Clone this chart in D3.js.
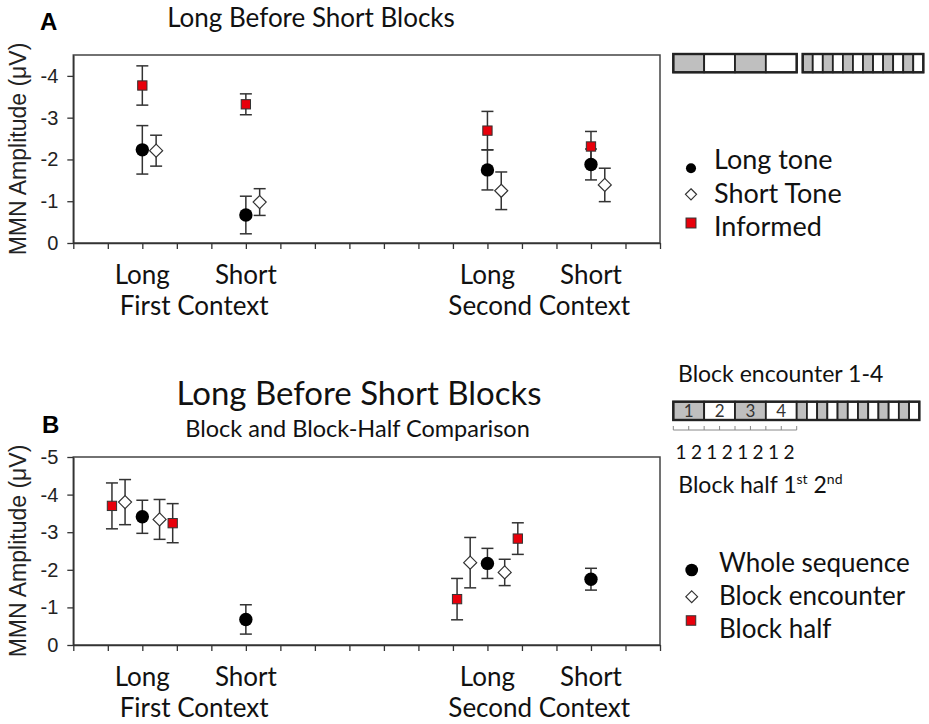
<!DOCTYPE html>
<html>
<head>
<meta charset="utf-8">
<script src="https://cdn.jsdelivr.net/npm/d3@7"></script>
<style>
  html, body { margin: 0; padding: 0; background: #fff; }
  svg { display: block; }
</style>
</head>
<body>
<svg id="chart" width="929" height="724"></svg>
<script>
// ---------------- DATA ----------------
const categories = ["Long", "Short", "Long", "Short"];
const categoryX = [2, 5, 12, 15];
const contexts = ["First Context", "Second Context"];
const contextX = [3.5, 13.5];
const xTicks = d3.range(0, 18);

const yTicksA = [0, -1, -2, -3, -4];
const yTicksB = [0, -1, -2, -3, -4, -5];

// Panel A
const longTone = [-2.23, -0.67, -1.75, -1.88];
const longToneErr = [0.58, 0.45, 0.48, 0.37];
const shortTone = [-2.21, -0.98, -1.25, -1.39];
const shortToneErr = [0.37, 0.32, 0.45, 0.40];
const informed = [-3.77, -3.32, -2.69, -2.31];
const informedErr = [0.47, 0.25, 0.46, 0.36];

// Panel B
const wholeSeq = [-3.41, -0.68, -2.17, -1.75];
const wholeSeqErr = [0.44, 0.39, 0.40, 0.29];
// block encounter: [before, after] around the Long categories (index 0 and 2)
const encounterCat = [0, 0, 2, 2];
const encounter = [-3.80, -3.34, -2.19, -1.93];
const encounterErr = [0.60, 0.53, 0.67, 0.35];
const halfCat = [0, 0, 2, 2];
const blockHalf = [-3.70, -3.24, -1.22, -2.83];
const blockHalfErr = [0.61, 0.52, 0.55, 0.42];

const legendA = ["Long tone", "Short Tone", "Informed"];
const legendB = ["Whole sequence", "Block encounter", "Block half"];
const titleA = "Long Before Short Blocks";
const titleB = "Long Before Short Blocks";
const subtitleB = "Block and Block-Half Comparison";
const yLabel = "MMN Amplitude (\u03BCV)";

const longBlocks = 4, shortBlocks = 12;
const blockLabels = ["1", "2", "3", "4"];
const halfLabels = ["1", "2", "1", "2", "1", "2", "1", "2"];

// ---------------- DRAW ----------------
const svg = d3.select("#chart");
const SANS = "'Liberation Sans', Arial, sans-serif";
const HUM = "Lato, 'Open Sans', sans-serif";
const INK = "#333";
const RED = "#e8000b";

const x = d3.scaleLinear().domain([0, 17]).range([73.3, 660]);
const yA = d3.scaleLinear().domain([0, -4.5]).range([243, 55]);
const yB = d3.scaleLinear().domain([0, -5]).range([645, 457]);

function marker(g, cx, cy, type, s) {
  s = s || 1;
  if (type === "circle") {
    g.append("circle").attr("cx", cx).attr("cy", cy).attr("r", 6.7 * s).attr("fill", "#000");
  } else if (type === "diamond") {
    const h = 6.5 * s;
    g.append("path")
      .attr("d", `M${cx},${cy - h}L${cx + h},${cy}L${cx},${cy + h}L${cx - h},${cy}Z`)
      .attr("fill", "#fff").attr("stroke", INK).attr("stroke-width", 1.2);
  } else {
    const a = 9.3 * s;
    g.append("rect").attr("x", cx - a / 2).attr("y", cy - a / 2).attr("width", a).attr("height", a)
      .attr("fill", RED).attr("stroke", INK).attr("stroke-width", 1);
  }
}

function errbar(g, cx, y, v, e) {
  const y1 = y(v - e), y2 = y(v + e), cw = 6;
  g.append("line").attr("x1", cx).attr("x2", cx).attr("y1", y1).attr("y2", y2)
    .attr("stroke", INK).attr("stroke-width", 1.5);
  [y1, y2].forEach(yy => g.append("line").attr("x1", cx - cw).attr("x2", cx + cw)
    .attr("y1", yy).attr("y2", yy).attr("stroke", INK).attr("stroke-width", 1.5));
}

function panel(y, yTicks, top, bottom) {
  const g = svg.append("g");
  g.append("rect").attr("x", x(0)).attr("y", top).attr("width", x(17) - x(0)).attr("height", bottom - top)
    .attr("fill", "none").attr("stroke", "#444").attr("stroke-width", 1.5);
  const xa = g.append("g").attr("transform", `translate(0,${bottom})`)
    .call(d3.axisBottom(x).tickValues(xTicks).tickSize(6).tickSizeOuter(0).tickFormat(""));
  xa.select(".domain").attr("stroke", INK).attr("stroke-width", 1.5);
  xa.selectAll(".tick line").attr("stroke", INK).attr("stroke-width", 1.3);
  const ya = g.append("g").attr("transform", `translate(${x(0)},0)`)
    .call(d3.axisLeft(y).tickValues(yTicks).tickSize(6).tickSizeOuter(0).tickPadding(9)
      .tickFormat(d => String(d)));
  ya.select(".domain").attr("stroke", INK).attr("stroke-width", 1.5);
  ya.selectAll(".tick line").attr("stroke", INK).attr("stroke-width", 1.3);
  ya.selectAll(".tick text").attr("font-family", SANS).attr("font-size", 20).attr("fill", "#222");
  g.append("text").attr("transform", `translate(26,${(top + bottom) / 2}) rotate(-90)`)
    .attr("text-anchor", "middle").attr("font-family", SANS).attr("font-size", 23).attr("fill", "#222")
    .text(yLabel);
  categories.forEach((c, i) => g.append("text").attr("x", x(categoryX[i])).attr("y", bottom + 41)
    .attr("text-anchor", "middle").attr("font-family", HUM).attr("font-size", 26).attr("fill", "#111").text(c));
  contexts.forEach((c, i) => g.append("text").attr("x", x(contextX[i])).attr("y", bottom + 72)
    .attr("text-anchor", "middle").attr("font-family", HUM).attr("font-size", 26).attr("fill", "#111").text(c));
  return g;
}

// ----- Panel A -----
const gA = panel(yA, yTicksA, 55, 243);
svg.append("text").attr("x", 311).attr("y", 27).attr("text-anchor", "middle")
  .attr("font-family", HUM).attr("font-size", 26).attr("fill", "#111").text(titleA);
svg.append("text").attr("x", 40).attr("y", 29.5).attr("font-family", SANS).attr("font-weight", "bold")
  .attr("font-size", 24).attr("fill", "#000").text("A");

const eA = gA.append("g"), mA = gA.append("g");
categoryX.forEach((cx, i) => {
  errbar(eA, x(cx), yA, informed[i], informedErr[i]);
  errbar(eA, x(cx), yA, longTone[i], longToneErr[i]);
  errbar(eA, x(cx + 0.4), yA, shortTone[i], shortToneErr[i]);
});
categoryX.forEach((cx, i) => {
  marker(mA, x(cx), yA(longTone[i]), "circle");
  marker(mA, x(cx + 0.4), yA(shortTone[i]), "diamond");
  marker(mA, x(cx), yA(informed[i]), "square");
});

// legend A
const lgA = svg.append("g");
marker(lgA, 691, 168.3, "circle", 0.75);
marker(lgA, 691, 194.3, "diamond", 0.85);
marker(lgA, 691, 223, "square", 1.07);
legendA.forEach((t, i) => lgA.append("text").attr("x", 714).attr("y", 169.3 + i * 33.4)
  .attr("font-family", HUM).attr("font-size", 27).attr("fill", "#111").text(t));

// diagram A
function blocks(g, x0, x1, n, y0, y1) {
  const w = (x1 - x0) / n;
  for (let i = 0; i < n; i++) {
    g.append("rect").attr("x", x0 + i * w).attr("y", y0).attr("width", w).attr("height", y1 - y0)
      .attr("fill", i % 2 === 0 ? "#bfbfbf" : "#fff").attr("stroke", "#222").attr("stroke-width", 1.8);
  }
  g.append("rect").attr("x", x0).attr("y", y0).attr("width", x1 - x0).attr("height", y1 - y0)
    .attr("fill", "none").attr("stroke", "#222").attr("stroke-width", 2.4);
}
const dA = svg.append("g");
blocks(dA, 673.3, 796.7, longBlocks, 54, 72.3);
blocks(dA, 802.7, 923.3, shortBlocks, 54, 72.3);

// ----- Panel B -----
const gB = panel(yB, yTicksB, 457, 645);
svg.append("text").attr("x", 359).attr("y", 405).attr("text-anchor", "middle")
  .attr("font-family", HUM).attr("font-size", 33).attr("fill", "#111").text(titleB);
svg.append("text").attr("x", 357.5).attr("y", 437).attr("text-anchor", "middle")
  .attr("font-family", HUM).attr("font-size", 23.5).attr("fill", "#111").text(subtitleB);
svg.append("text").attr("x", 42).attr("y", 433).attr("font-family", SANS).attr("font-weight", "bold")
  .attr("font-size", 24).attr("fill", "#000").text("B");

const eB = gB.append("g"), mB = gB.append("g");
const encOff = [-0.5, 0.5], halfOff = [-0.88, 0.88];
wholeSeq.forEach((v, i) => errbar(eB, x(categoryX[i]), yB, v, wholeSeqErr[i]));
encounter.forEach((v, i) => errbar(eB, x(categoryX[encounterCat[i]] + encOff[i % 2]), yB, v, encounterErr[i]));
blockHalf.forEach((v, i) => errbar(eB, x(categoryX[halfCat[i]] + halfOff[i % 2]), yB, v, blockHalfErr[i]));
wholeSeq.forEach((v, i) => marker(mB, x(categoryX[i]), yB(v), "circle"));
encounter.forEach((v, i) => marker(mB, x(categoryX[encounterCat[i]] + encOff[i % 2]), yB(v), "diamond"));
blockHalf.forEach((v, i) => marker(mB, x(categoryX[halfCat[i]] + halfOff[i % 2]), yB(v), "square"));

// legend B
const lgB = svg.append("g");
marker(lgB, 691.7, 570, "circle", 0.95);
marker(lgB, 691.7, 596.7, "diamond", 0.9);
marker(lgB, 691, 620.5, "square", 1.02);
legendB.forEach((t, i) => lgB.append("text").attr("x", 719).attr("y", 571.7 + i * 33.2)
  .attr("font-family", HUM).attr("font-size", 26).attr("fill", "#111").text(t));

// diagram B
const dB = svg.append("g");
dB.append("text").attr("x", 678).attr("y", 382).attr("font-family", HUM).attr("font-size", 23)
  .attr("fill", "#111").text("Block encounter 1-4");
(function () {
  const x0 = 673.3, xm = 796.7, x1 = 919.3, y0 = 401.7, y1 = 420;
  const wL = (xm - x0) / longBlocks, wS = (x1 - xm) / shortBlocks;
  for (let i = 0; i < longBlocks; i++) {
    dB.append("rect").attr("x", x0 + i * wL).attr("y", y0).attr("width", wL).attr("height", y1 - y0)
      .attr("fill", i % 2 === 0 ? "#bfbfbf" : "#fff").attr("stroke", "#222").attr("stroke-width", 1.8);
    dB.append("text").attr("x", x0 + (i + 0.5) * wL).attr("y", y1 - 3.5).attr("text-anchor", "middle")
      .attr("font-family", HUM).attr("font-size", 17).attr("fill", "#333").text(blockLabels[i]);
  }
  for (let i = 0; i < shortBlocks; i++) {
    dB.append("rect").attr("x", xm + i * wS).attr("y", y0).attr("width", wS).attr("height", y1 - y0)
      .attr("fill", i % 2 === 0 ? "#bfbfbf" : "#fff").attr("stroke", "#222").attr("stroke-width", 1.8);
  }
  dB.append("rect").attr("x", x0).attr("y", y0).attr("width", x1 - x0).attr("height", y1 - y0)
    .attr("fill", "none").attr("stroke", "#222").attr("stroke-width", 2.4);
  const hw = (xm - x0) / halfLabels.length;
  dB.append("line").attr("x1", x0).attr("x2", xm).attr("y1", 430).attr("y2", 430)
    .attr("stroke", "#888").attr("stroke-width", 1);
  for (let i = 0; i <= halfLabels.length; i++) {
    dB.append("line").attr("x1", x0 + i * hw).attr("x2", x0 + i * hw).attr("y1", 430).attr("y2", 426)
      .attr("stroke", "#888").attr("stroke-width", 1);
  }
  halfLabels.forEach((t, i) => dB.append("text").attr("x", x0 + (i + 0.5) * hw).attr("y", 459.3)
    .attr("text-anchor", "middle").attr("font-family", HUM).attr("font-size", 19).attr("fill", "#111").text(t));
  const bh = dB.append("text").attr("x", 678.3).attr("y", 493.3).attr("font-family", HUM)
    .attr("font-size", 23).attr("fill", "#111");
  bh.append("tspan").text("Block half 1");
  bh.append("tspan").attr("font-size", 14).attr("dy", -9).text("st");
  bh.append("tspan").attr("dy", 9).text(" 2");
  bh.append("tspan").attr("font-size", 14).attr("dy", -9).text("nd");
})();
</script>
</body>
</html>
